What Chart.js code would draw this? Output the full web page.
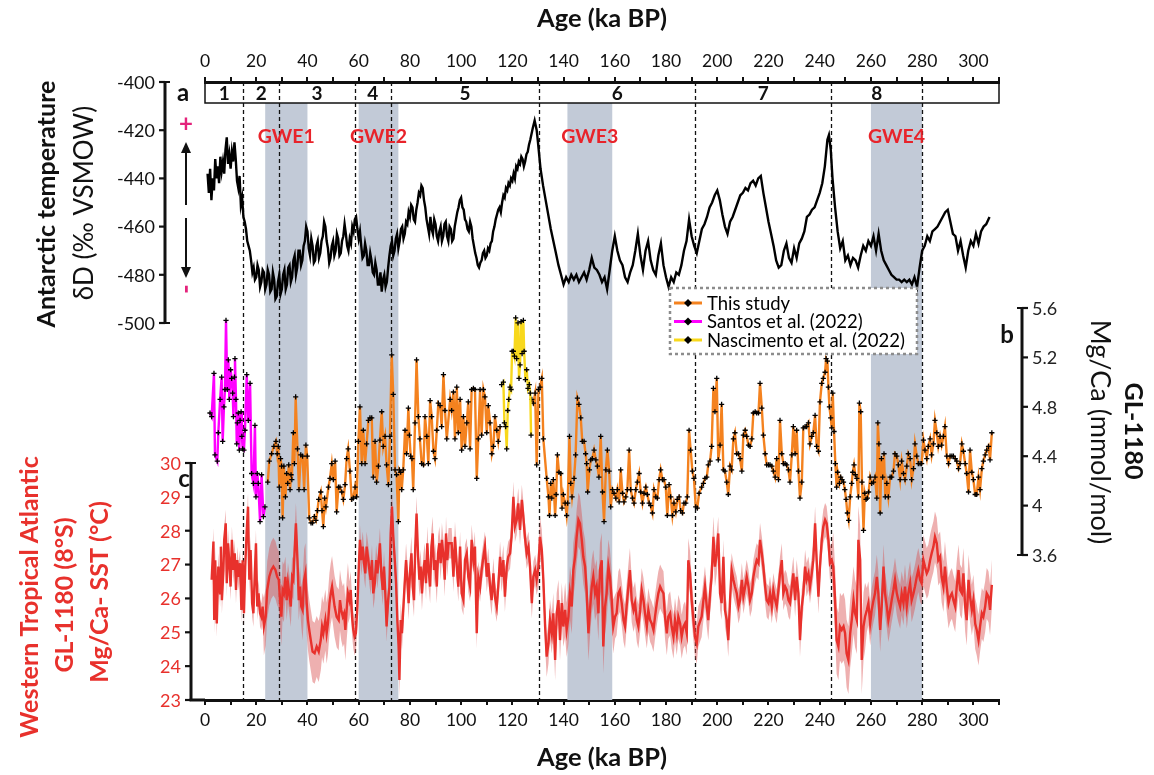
<!DOCTYPE html>
<html>
<head>
<meta charset="utf-8">
<script src="https://cdn.jsdelivr.net/npm/chart.js@4/dist/chart.umd.min.js"></script>
<style>
  body { margin: 0; background: #fff; }
</style>
</head>
<body>
<canvas id="chart" width="1154" height="775"></canvas>
<script>
// ---- data ----
const ageTicks = [0, 20, 40, 60, 80, 100, 120, 140, 160, 180, 200, 220, 240, 260, 280, 300];
const ddTicks = [-400, -420, -440, -460, -480, -500];
const mgcaTicks = [5.6, 5.2, 4.8, 4.4, 4.0, 3.6];
const mgcaTickLabels = ['5.6', '5.2', '4.8', '4.4', '4', '3.6'];
const sstTicks = [30, 29, 28, 27, 26, 25, 24, 23];

const misLabels = ['1', '2', '3', '4', '5', '6', '7', '8'];
const misBounds = [15, 29, 58.5, 72.5, 130.5, 191.5, 244.5, 280];
const gweLabels = ['GWE1', 'GWE2', 'GWE3', 'GWE4'];
const gweStart = [23.5, 60, 141.5, 260];
const gweEnd = [40, 75.5, 159, 280];

// Antarctic dD (a)
const ddAge = [1,1.5,2,2.5,3,3.5,4,4.5,5,5.5,
  6,6.5,7,7.5,8,8.5,9,9.5,10,10.5,
  11,11.5,12,12.5,13,13.5,14,14.5,15,15.5,
  16,16.5,17,17.5,18,18.5,19,19.5,20,20.5,
  21,21.5,22,22.5,23,23.5,24,24.5,25,25.5,
  26,26.5,27,27.5,28,28.5,29,29.5,30,30.5,
  31,31.5,32,32.5,33,33.5,34,34.5,35,35.5,
  36,36.5,37,37.5,38,38.5,39,39.5,40,40.5,
  41,41.5,42,42.5,43,43.5,44,44.5,45,45.5,
  46,46.5,47,47.5,48,48.5,49,49.5,50,50.5,
  51,51.5,52,52.5,53,53.5,54,54.5,55,55.5,
  56,56.5,57,57.5,58,58.5,59,59.5,60,60.5,
  61,61.5,62,62.5,63,63.5,64,64.5,65,65.5,
  66,66.5,67,67.5,68,68.5,69,69.5,70,70.5,
  71,71.5,72,72.5,73,73.5,74,74.5,75,75.5,
  76,76.5,77,77.5,78,78.5,79,79.5,80,80.5,
  81,81.5,82,82.5,83,83.5,84,84.5,85,85.5,
  86,86.5,87,87.5,88,88.5,89,89.5,90,90.5,
  91,91.5,92,92.5,93,93.5,94,94.5,95,95.5,
  96,96.5,97,97.5,98,98.5,99,99.5,100,100.5,
  101,101.5,102,102.5,103,103.5,104,104.5,105,105.5,
  106,106.5,107,107.5,108,108.5,109,109.5,110,110.5,
  111,111.5,112,112.5,113,113.5,114,114.5,115,115.5,
  116,116.5,117,117.5,118,118.5,119,119.5,120,120.5,
  121,121.5,122,122.5,123,123.5,124,124.5,125,125.5,
  126,126.5,127,128,128.7,129.5,130,131,132,133,
  134,135,136,137,138,139,140,141,142,143,
  144,145,146,147,148,149,150,151,152,153,
  154,155,156,157,158,159,160,161,162,163,
  164,165,166,167,168,169,170,171,172,173,
  174,175,176,177,178,179,180,181,182,183,
  184,185,186,187,188,189,190,191,192,193,
  194,195,196,197,198,199,200,201,202,203,
  204,205,206,207,208,209,210,211,212,213,
  214,215,216,217,218,219,220,221,222,223,
  224,225,226,227,228,229,230,231,232,233,
  234,235,236,237,238,239,240,241,242,243,
  243.6,244.3,245,246,247,248,249,250,251,252,
  253,254,255,256,257,258,259,260,261,262,
  263,264,265,266,267,268,269,270,271,272,
  273,274,275,276,277,278,279,280,281,282,
  283,284,285,286,287,288,289,290,291,292,
  293,294,295,296,297,298,299,300,301,302,
  303,304,305,306.3];
const ddVal = [-438,-446,-436,-449,-440,-445,-432,-440,-435,-442,
  -431,-437,-433,-438,-428,-423,-434,-430,-436,-429,
  -433,-425,-432,-441,-444,-439,-451,-448,-456,-458,
  -461,-466,-468,-470,-474,-479,-477,-482,-481,-476,
  -478,-485,-483,-478,-479,-486,-484,-478,-480,-487,
  -486,-479,-482,-490,-489,-483,-480,-488,-486,-480,
  -478,-486,-484,-477,-476,-483,-481,-474,-472,-480,
  -477,-470,-470,-476,-474,-468,-466,-460,-462,-469,
  -472,-465,-468,-475,-474,-468,-466,-473,-471,-466,
  -464,-458,-460,-466,-469,-475,-473,-468,-466,-472,
  -470,-463,-465,-472,-471,-466,-464,-459,-463,-468,
  -470,-465,-467,-460,-462,-457,-456,-461,-465,-462,
  -468,-473,-472,-467,-470,-476,-476,-471,-474,-479,
  -480,-475,-478,-484,-484,-479,-487,-482,-480,-485,
  -483,-477,-472,-468,-466,-472,-470,-465,-463,-469,
  -466,-461,-460,-465,-463,-458,-459,-454,-456,-451,
  -452,-457,-458,-453,-450,-446,-447,-443,-444,-449,
  -452,-457,-460,-463,-456,-461,-463,-457,-459,-464,
  -466,-462,-460,-466,-464,-459,-458,-464,-466,-460,
  -461,-466,-465,-460,-457,-454,-452,-449,-448,-452,
  -453,-457,-458,-461,-462,-458,-460,-465,-468,-471,
  -473,-476,-477,-475,-474,-471,-470,-473,-472,-469,
  -470,-467,-466,-462,-460,-457,-455,-453,-452,-454,
  -450,-447,-448,-444,-445,-442,-443,-440,-441,-438,
  -440,-435,-436,-433,-434,-431,-432,-435,-433,-430,
  -429,-426,-424,-419,-416,-420,-425,-436,-443,-449,
  -455,-461,-466,-471,-476,-480,-484,-481,-483,-480,
  -482,-480,-483,-481,-479,-482,-478,-473,-477,-478,
  -480,-483,-481,-486,-478,-470,-464,-470,-474,-476,
  -481,-483,-479,-476,-470,-463,-472,-478,-470,-466,
  -474,-478,-480,-472,-467,-476,-481,-485,-481,-483,
  -479,-480,-476,-470,-466,-457,-464,-468,-471,-466,
  -461,-459,-456,-452,-450,-447,-445,-449,-455,-460,
  -463,-458,-456,-453,-450,-447,-446,-444,-445,-442,
  -441,-443,-440,-439,-446,-452,-458,-463,-468,-474,
  -477,-476,-470,-467,-473,-475,-469,-473,-467,-465,
  -462,-456,-455,-453,-452,-449,-446,-442,-435,-424,
  -422,-428,-440,-452,-462,-469,-466,-474,-472,-476,
  -473,-474,-477,-472,-468,-470,-466,-468,-464,-470,
  -463,-470,-474,-476,-478,-480,-481,-482,-482,-483,
  -482,-483,-482,-484,-481,-485,-477,-470,-468,-464,
  -466,-462,-461,-460,-458,-456,-454,-453,-458,-463,
  -464,-470,-466,-472,-477,-470,-466,-468,-463,-467,
  -462,-460,-459,-456];

// GL-1180 Mg/Ca, this study (b)
const mgAge = [24.5,25.1,26.0,26.9,27.7,28.2,28.6,29.0,29.5,29.9,
  30.3,30.8,31.4,31.9,32.3,32.7,33.2,33.6,33.9,34.5,
  34.9,35.4,36.1,36.7,37.4,38.1,38.7,39.4,39.9,40.7,
  41.4,42.0,42.7,43.3,43.9,44.4,45.2,45.7,46.2,46.7,
  47.2,48.2,48.8,49.5,50.1,50.8,51.4,52.1,52.7,53.4,
  54.0,54.7,55.3,55.9,56.6,57.3,57.9,58.6,59.2,59.9,
  60.5,61.2,61.8,62.5,63.1,63.8,64.4,65.1,65.7,66.4,
  67.0,67.7,68.3,69.0,69.6,70.3,70.9,71.6,72.2,72.9,
  73.5,74.2,74.8,75.5,75.9,76.4,76.8,77.4,78.1,78.7,
  79.4,79.8,80.3,80.8,81.3,82.0,82.6,83.3,83.9,84.6,
  85.3,85.9,86.6,87.2,87.9,88.5,89.2,89.8,90.5,91.1,
  91.8,92.4,93.1,93.7,94.4,
  95.7,96.3,97.0,97.6,98.3,98.9,99.6,100.2,100.9,101.5,
  102.2,102.8,103.5,104.1,104.8,105.4,106.1,106.7,107.4,108.0,
  108.7,109.3,110.0,110.6,111.3,112.0,112.6,113.2,113.9,114.5,
  115.2,121,
  127.6,128.2,128.9,129.5,130.2,130.8,131.5,132.1,133.4,134.1,
  134.5,135.0,135.4,136.0,136.7,137.1,137.6,138.2,138.9,139.4,
  139.9,140.6,141.2,141.6,142.3,142.8,143.3,144.1,144.7,145.4,
  146.0,146.7,147.3,148.0,148.6,149.0,149.4,150.1,150.6,151.2,
  151.9,152.6,153.2,153.8,154.5,155.2,155.8,156.5,157.1,157.8,
  158.4,159.1,159.7,160.4,161.0,161.7,162.3,163.0,163.6,164.3,
  164.9,165.6,166.2,166.9,167.5,168.2,168.8,169.5,170.1,170.8,
  171.4,172.1,172.7,173.4,174.0,174.7,175.3,176.0,176.6,177.3,
  177.9,178.6,179.2,179.9,180.5,181.2,181.8,182.5,183.1,183.8,
  184.4,185.1,185.7,186.4,187.0,187.7,188.3,189.0,189.6,190.3,
  190.9,191.6,192.2,192.9,
  193.9,194.6,195.2,195.9,196.5,197.2,197.8,198.5,199.1,199.8,
  200.4,201.1,201.7,202.4,203.0,203.7,204.3,205.0,205.6,206.3,
  206.9,207.6,208.3,208.9,209.6,210.2,210.9,211.5,212.2,212.8,
  213.5,214.1,214.8,215.4,216.1,216.7,217.4,218.0,218.7,219.3,
  220.0,220.6,221.3,221.9,222.6,223.2,223.9,224.5,225.2,225.8,
  226.5,227.1,227.8,228.4,229.1,229.7,230.4,231.0,231.7,232.3,
  233.0,233.6,234.3,234.9,235.6,236.2,236.9,237.5,238.2,238.8,
  239.5,240.1,240.8,241.4,242.1,242.5,243.0,243.4,243.8,244.3,
  244.7,245.1,245.6,246.1,246.6,247.0,247.7,248.2,248.7,249.3,
  249.8,250.3,250.8,251.3,251.9,252.5,252.9,253.4,253.9,254.5,
  255.1,255.5,256.0,256.5,257.1,257.6,258.1,258.6,259.1,259.7,
  260.3,261.0,261.6,262.3,262.7,263.1,263.6,264.1,264.6,265.1,
  265.6,266.2,266.8,267.5,268.1,268.8,269.4,270.1,270.7,271.4,
  272.0,272.7,273.3,274.0,274.6,275.3,275.9,276.6,277.2,277.9,
  278.5,279.2,279.8,280.5,281.1,281.8,282.4,283.1,283.7,284.4,
  285.0,285.7,286.3,287.0,287.6,288.3,288.9,289.6,290.3,290.9,
  291.6,292.2,292.9,293.5,294.2,294.8,295.5,296.1,296.8,297.4,
  298.1,298.7,299.4,300.0,300.7,301.3,302.0,302.6,303.3,303.9,
  304.6,305.2,305.9,306.5,307.2];
const mgVal = [4.19,4.36,4.42,4.48,4.52,4.42,4.48,4.15,4.38,4.32,
  3.90,4.32,4.07,4.26,4.18,4.33,4.13,4.25,4.21,4.59,
  4.34,4.88,4.46,4.13,4.41,4.40,4.13,4.49,4.40,3.90,
  3.86,3.86,3.91,3.88,3.96,4.05,4.11,3.96,3.83,4.06,
  3.99,4.15,4.22,4.34,4.21,4.36,3.95,4.15,4.15,4.11,
  4.05,4.17,4.38,4.46,4.28,4.05,4.06,4.15,4.07,4.52,
  4.80,4.34,4.61,4.34,4.50,4.69,4.71,4.71,4.23,4.52,
  4.19,4.32,4.53,4.76,4.48,4.56,4.33,4.17,4.56,5.22,
  4.90,4.29,4.25,3.87,4.29,4.27,4.13,4.29,4.61,4.42,
  4.79,4.57,4.40,4.38,4.13,4.67,5.18,4.72,4.54,4.34,
  4.33,4.72,4.56,4.34,4.85,4.72,4.44,4.38,4.61,4.83,
  4.81,4.64,5.06,4.77,4.54,
  4.86,4.77,4.92,4.54,4.96,4.59,4.86,4.45,4.72,4.48,
  4.67,4.84,4.46,4.94,4.95,4.94,4.22,4.54,4.94,4.57,
  4.94,4.88,4.59,4.81,4.67,4.42,4.48,4.72,4.61,4.52,
  4.64,null,
  4.86,4.83,4.91,4.33,4.94,4.96,5.03,4.54,4.22,4.07,
  3.92,4.18,4.06,4.21,3.92,4.09,4.41,4.27,4.26,3.98,
  4.09,4.02,3.92,4.02,4.56,4.18,4.07,4.22,4.41,4.87,
  4.82,4.71,4.52,4.52,4.42,4.34,4.11,4.29,4.37,4.38,
  4.45,4.37,4.32,4.23,4.56,4.11,3.87,4.29,4.45,4.28,
  3.99,4.13,4.10,4.06,4.13,4.03,4.29,4.10,4.03,4.07,
  4.13,4.45,4.13,4.06,4.02,4.13,4.19,4.26,4.11,4.02,
  4.10,4.15,4.09,4.02,4.00,3.94,4.13,4.07,4.06,4.21,
  4.29,4.21,4.21,4.15,3.92,4.17,4.07,3.92,4.02,3.95,
  4.05,4.07,3.96,3.94,4.02,4.02,4.07,4.61,4.45,4.28,
  4.22,3.99,3.98,4.10,
  4.15,4.18,4.22,4.23,4.33,4.36,4.48,4.95,4.76,5.03,
  4.37,4.49,4.82,4.29,4.28,4.19,4.09,4.32,4.29,4.54,
  4.59,4.42,4.42,4.38,4.28,4.57,4.61,4.56,4.49,4.48,
  4.54,4.75,4.76,4.75,4.75,4.99,4.79,4.57,4.42,4.33,
  4.33,4.33,4.32,4.28,4.23,4.38,4.21,4.69,4.42,4.34,
  4.34,4.33,4.29,4.19,4.41,4.64,4.42,4.61,4.28,4.06,
  4.19,4.63,4.64,4.64,4.67,4.50,4.56,4.59,4.73,4.48,
  4.44,4.84,4.99,5.03,5.08,5.19,5.17,4.96,4.80,4.71,
  4.63,4.91,4.60,4.34,4.15,4.27,4.18,4.23,4.21,4.19,
  4.13,4.05,3.94,3.88,4.07,4.18,4.27,4.33,4.25,4.22,
  4.07,4.83,4.76,4.19,3.80,4.10,4.05,4.06,4.11,4.23,
  4.18,4.19,4.23,4.06,4.67,4.50,3.94,4.38,4.23,4.42,
  4.07,4.18,4.07,4.23,4.23,4.28,4.42,4.40,4.33,4.21,
  4.36,4.26,4.21,4.32,4.42,4.38,4.21,4.30,4.50,4.40,
  4.34,4.34,4.34,4.53,4.45,4.38,4.48,4.54,4.41,4.50,
  4.69,4.59,4.48,4.56,4.49,4.56,4.64,4.40,4.34,4.40,
  4.40,4.40,4.38,4.36,4.30,4.34,4.50,4.44,4.34,4.26,
  4.11,4.45,4.27,4.21,4.09,4.09,4.23,4.13,4.30,4.36,
  4.41,4.45,4.48,4.37,4.59];

// Santos et al. (2022)
const santosAge = [1.95,2.6,3.5,3.9,4.8,5.2,5.9,6.5,6.9,7.4,
  7.8,8.2,8.7,9.1,9.5,10.0,10.4,10.8,11.1,11.5,
  11.7,12.1,12.4,12.6,13.0,13.4,13.7,14.1,14.4,14.7,
  15.2,15.6,16.3,16.9,17.6,18.2,18.9,19.5,19.9,20.4,
  20.8,21.5,22.1,22.8,23.4];
const santosVal = [4.75,4.72,5.07,4.41,4.36,4.59,4.86,5.04,4.52,4.80,
  4.94,5.50,4.94,5.18,4.86,5.10,5.03,4.91,4.72,5.04,
  5.19,4.86,4.50,4.67,4.75,4.45,4.69,4.76,4.56,4.46,
  4.45,4.61,5.06,4.69,4.99,4.26,4.18,4.65,4.07,4.26,
  4.18,3.87,4.25,3.91,3.99];

// Nascimento et al. (2022)
const nascAge = [115.8,116.5,116.9,117.4,117.8,118.2,118.6,119.1,119.5,119.9,
  120.4,120.8,121.3,121.7,122.2,122.6,123.0,123.4,123.8,124.3,
  124.6,125.1,125.6,126.1,126.6,127.0,127.3];
const nascVal = [4.98,5.00,4.67,4.64,4.46,4.77,4.86,4.96,4.94,5.25,
  5.25,5.21,5.52,5.19,5.48,5.03,5.14,5.49,5.23,5.50,
  5.25,5.02,5.10,4.95,4.98,4.91,4.57];

// Mg/Ca-SST (c)
const sstAge = [2.6,3.3,3.6,4.0,4.6,5.2,5.9,6.2,6.6,7.2,
  7.5,8.1,8.5,9.0,9.5,10.0,10.5,11.1,11.6,12.1,
  12.6,13.1,13.7,14.2,14.7,15.2,15.7,16.3,16.8,17.3,
  17.8,18.4,18.9,19.4,19.9,20.4,20.9,21.5,22.0,22.5,
  23.0,23.7,24.3,25.1,25.9,26.7,27.5,28.2,28.8,29.3,
  29.8,30.3,30.8,31.4,31.9,32.4,32.9,33.5,34.0,34.5,
  35.0,35.5,36.1,36.6,37.1,37.6,38.1,38.7,39.2,39.7,
  40.2,40.7,41.3,42.0,42.8,43.6,44.4,45.2,45.7,46.2,
  47.0,47.5,48.0,48.6,49.1,49.6,50.1,50.6,51.4,52.2,
  52.7,53.2,53.8,54.3,54.8,55.3,55.8,56.4,56.9,57.4,
  57.9,58.4,58.9,59.5,60.0,60.5,61.0,61.6,62.1,62.6,
  63.1,63.6,64.2,64.7,65.2,65.7,66.3,66.8,67.3,67.8,
  68.3,68.9,69.4,69.9,70.4,70.9,71.5,72.0,72.5,73.0,
  73.5,74.1,74.6,75.1,75.6,75.9,76.4,76.9,77.4,77.9,
  78.5,79.0,79.5,80.0,80.6,81.1,81.6,82.1,82.6,83.2,
  83.7,84.2,84.7,85.3,85.8,86.3,86.8,87.3,87.9,88.4,
  88.9,89.4,89.9,90.5,91.0,91.5,92.0,92.5,93.1,93.6,
  94.1,94.6,95.1,
  96.3,97.0,97.6,98.3,98.9,99.6,100.2,100.9,101.5,102.2,
  102.8,103.5,104.1,104.8,105.4,106.1,106.7,107.4,108.0,108.7,
  109.3,110.0,110.6,111.3,111.9,112.6,113.2,113.9,114.5,115.2,
  115.8,116.5,117.1,117.8,118.4,119.1,119.7,120.4,121.0,121.7,
  122.3,123.0,123.7,124.3,124.9,125.6,126.3,126.9,127.6,128.2,
  128.9,129.5,130.2,130.8,131.5,132.1,132.8,133.4,134.1,134.7,
  135.4,136.0,136.7,137.3,138.0,138.6,139.3,139.9,140.6,141.2,
  141.9,142.5,143.2,143.8,144.5,145.1,145.8,146.4,147.1,147.7,
  148.4,149.0,149.7,150.3,151.0,151.6,152.3,152.9,153.6,154.2,
  154.9,155.5,156.2,156.8,157.5,158.1,158.8,159.4,160.1,160.7,
  161.4,162.0,162.7,163.4,164.0,164.6,165.3,165.9,166.6,167.3,
  167.9,168.6,169.2,169.9,170.5,171.2,171.8,172.5,173.1,173.8,
  174.4,175.1,175.7,176.4,177.0,177.7,178.3,179.0,179.6,180.3,
  180.9,181.6,182.2,182.9,183.5,184.2,184.8,185.5,186.1,186.8,
  187.4,188.1,188.7,189.4,190.0,190.7,191.3,192.0,192.6,
  193.9,194.6,195.2,195.9,196.5,197.2,197.8,198.5,199.1,199.8,
  200.4,201.1,201.7,202.4,203.0,203.7,204.3,205.0,205.6,206.3,
  206.9,207.6,208.3,208.9,209.6,210.2,210.9,211.5,212.2,212.8,
  213.5,214.1,214.8,215.4,216.1,216.7,217.4,218.0,218.7,219.3,
  220.0,220.6,221.3,221.9,222.6,223.2,223.9,224.5,225.2,225.8,
  226.5,227.1,227.8,228.4,229.1,229.7,230.4,231.0,231.7,232.3,
  233.0,233.6,234.3,234.9,235.6,236.2,236.9,237.5,238.2,238.8,
  239.5,240.1,240.8,241.4,242.1,242.7,243.4,244.0,244.7,245.3,
  246.0,246.6,247.3,247.9,248.6,249.3,249.9,250.5,251.2,251.9,
  252.5,253.2,253.8,254.5,255.1,255.8,256.4,257.1,257.7,258.4,
  259.0,259.7,260.3,261.0,261.6,262.3,262.9,263.6,264.2,264.9,
  265.5,266.2,266.8,267.5,268.1,268.8,269.4,270.1,270.7,271.4,
  272.0,272.7,273.3,274.0,274.6,275.3,275.9,276.6,277.2,277.9,
  278.5,279.2,279.8,280.5,281.1,281.8,282.4,283.1,283.7,284.4,
  285.0,285.7,286.3,287.0,287.6,288.3,288.9,289.6,290.3,290.9,
  291.6,292.2,292.9,293.5,294.2,294.8,295.5,296.1,296.8,297.4,
  298.1,298.7,299.4,300.0,300.7,301.3,302.0,302.6,303.3,303.9,
  304.6,305.2,305.9,306.5,307.2];
const sstVal = [26.55,27.68,25.36,27.13,25.26,26.94,26.15,27.53,25.95,26.84,
  27.73,28.22,26.45,27.63,27.04,26.35,27.73,26.84,27.33,26.25,
  27.13,26.64,27.04,25.66,27.13,25.56,26.94,28.02,28.71,26.55,
  27.43,25.86,25.56,26.64,27.63,25.76,26.15,25.56,25.46,25.76,
  25.17,25.46,26.25,26.64,26.84,26.94,26.84,26.64,26.55,25.95,
  25.46,26.25,26.15,26.64,25.95,26.45,26.15,25.76,26.64,26.55,
  27.43,28.22,27.13,25.95,26.35,25.76,25.66,26.55,26.74,25.86,
  25.36,25.07,24.77,24.43,24.38,24.58,24.43,24.77,25.17,24.97,
  25.36,24.97,25.26,25.86,26.15,26.35,26.05,25.76,25.46,25.36,
  25.95,25.66,25.46,25.56,25.07,25.66,26.15,25.95,26.25,25.46,
  25.07,24.87,24.97,25.76,26.84,27.73,27.13,27.53,27.04,26.74,
  27.53,27.23,26.84,26.55,27.13,26.15,26.45,27.13,26.74,27.13,
  27.63,26.64,26.25,26.94,26.15,25.17,25.95,26.35,27.92,28.71,
  27.82,27.13,26.45,25.36,24.58,23.59,25.36,24.97,25.66,26.35,
  27.13,26.55,25.86,26.74,27.33,26.35,25.95,27.53,28.51,27.23,
  26.55,26.94,26.15,26.84,27.13,26.45,27.63,26.84,26.35,27.53,
  27.92,26.84,27.13,26.35,27.33,27.63,27.04,27.73,27.23,26.55,
  27.92,27.13,27.63,
  27.63,26.64,27.82,26.94,26.35,27.53,26.15,25.95,27.13,27.33,
  26.64,26.35,27.73,27.13,27.53,24.97,26.64,26.35,26.84,27.23,
  27.53,26.64,27.04,26.35,25.95,26.74,26.05,25.76,26.35,27.23,
  26.64,27.13,26.05,26.94,27.23,27.33,27.82,29.00,28.12,28.32,
  28.81,28.02,28.91,28.41,27.82,27.33,27.53,26.94,25.86,26.64,
  26.84,26.55,26.94,27.82,27.43,26.55,25.17,24.28,24.67,25.36,
  24.97,25.56,24.18,25.56,25.95,24.77,25.86,25.17,25.66,25.07,
  25.46,26.15,25.76,26.84,27.23,27.82,28.32,28.22,27.73,27.23,
  26.94,26.25,24.97,25.66,26.35,26.64,26.15,26.35,25.56,26.84,
  27.13,24.58,25.76,26.15,26.94,26.64,25.95,25.17,25.46,25.56,
  26.15,26.25,25.86,25.36,25.17,25.76,26.35,26.84,25.95,25.66,
  25.86,25.36,25.17,25.66,26.25,25.95,25.56,25.17,25.66,25.36,
  25.26,25.07,25.46,25.86,26.15,26.35,26.25,26.15,25.46,24.97,
  25.46,25.56,25.17,24.87,25.36,24.97,25.46,25.26,24.87,25.17,
  25.26,24.97,27.13,26.74,25.95,25.36,24.87,24.67,25.17,
  25.46,25.95,26.35,25.76,25.36,26.15,26.64,27.82,26.94,27.33,
  27.92,26.15,25.86,27.23,25.66,25.36,24.77,25.95,26.84,26.55,
  26.35,26.15,25.76,25.95,26.55,26.05,26.35,26.64,26.35,25.95,
  26.15,26.64,26.94,27.13,27.04,27.73,27.33,26.94,26.35,25.95,
  25.86,26.15,25.76,26.25,25.95,25.76,26.25,26.74,27.13,26.15,
  26.35,26.25,25.95,25.86,26.35,26.74,25.95,26.64,26.15,24.77,
  25.76,26.15,26.94,26.55,26.74,26.35,26.74,27.13,28.22,27.13,
  26.05,26.94,27.73,28.12,28.32,28.22,27.73,27.04,27.13,26.94,
  25.95,24.77,24.58,25.17,25.07,25.17,24.97,24.38,24.18,24.97,
  25.36,25.95,25.56,25.36,27.73,27.13,24.18,25.17,25.46,25.66,
  25.86,25.26,25.66,25.95,26.15,26.64,26.15,25.07,25.76,26.94,
  26.15,25.76,25.36,25.66,25.95,26.25,26.55,26.15,25.95,25.76,
  26.15,25.86,26.35,25.76,26.15,26.45,25.95,26.15,26.35,26.64,
  26.84,26.55,26.45,27.13,26.94,26.74,26.84,27.13,27.33,27.53,
  27.82,27.63,27.13,27.23,26.64,26.35,26.94,26.35,25.86,26.05,
  26.15,25.95,25.76,26.35,26.84,26.25,26.15,26.74,25.76,25.36,
  26.55,26.05,25.66,25.95,25.26,25.07,24.77,25.17,25.56,25.46,
  25.76,26.15,26.05,25.66,26.40];
// half-width of the SST uncertainty band, by age interval
const sstErrFrom = [0, 23, 31, 38, 56, 60, 75, 95, 130, 140, 160, 190, 200, 245, 258, 280];
const sstErrVal = [0.4, 0.85, 0.6, 0.9, 0.55, 0.45, 0.5, 0.45, 0.6, 0.8, 0.65, 0.6, 0.5, 1.0, 0.65, 0.75];

// ---- build datasets ----
const FONT = 'Lato, "Open Sans", sans-serif';
const RED = '#e8312c';
const ORANGE = '#f4821f';

function pts(ages, vals) {
  return ages.map((a, i) => ({ x: a, y: vals[i] }));
}
function errAt(a) {
  let e = sstErrVal[0];
  for (let i = 0; i < sstErrFrom.length; i++) if (a >= sstErrFrom[i]) e = sstErrVal[i];
  return e;
}
const sstUpper = sstAge.map((a, i) => ({ x: a, y: sstVal[i] + errAt(a) }));
const sstLower = sstAge.map((a, i) => ({ x: a, y: sstVal[i] - errAt(a) }));

const markerOpts = {
  pointStyle: 'cross', pointRadius: 2.6, pointBorderColor: '#000',
  pointBackgroundColor: '#000', pointBorderWidth: 1.3, pointHoverRadius: 2.6
};

const datasets = [
  Object.assign({ label: 'Nascimento et al. (2022)', data: pts(nascAge, nascVal), yAxisID: 'yB',
    borderColor: '#f8d81c', borderWidth: 2.4, order: 1 }, markerOpts),
  Object.assign({ label: 'Santos et al. (2022)', data: pts(santosAge, santosVal), yAxisID: 'yB',
    borderColor: '#ff00ff', borderWidth: 2.4, order: 2 }, markerOpts),
  Object.assign({ label: 'This study', data: pts(mgAge, mgVal), yAxisID: 'yB',
    borderColor: ORANGE, borderWidth: 2.4, order: 3, spanGaps: false }, markerOpts),
  { label: 'dD', data: pts(ddAge, ddVal), yAxisID: 'yA', borderColor: '#000', borderWidth: 2.4,
    pointRadius: 0, order: 4 },
  { label: 'SST', data: pts(sstAge, sstVal), yAxisID: 'yC', borderColor: RED, borderWidth: 2.4,
    pointRadius: 0, order: 5 },
  { label: 'SST upper', data: sstUpper, yAxisID: 'yC', borderWidth: 0, pointRadius: 0,
    fill: '+1', backgroundColor: 'rgba(218,80,80,0.45)', order: 6 },
  { label: 'SST lower', data: sstLower, yAxisID: 'yC', borderWidth: 0, pointRadius: 0,
    fill: false, order: 7 }
];
const legendItems = ['This study', 'Santos et al. (2022)', 'Nascimento et al. (2022)'];

// ---- helper drawing ----
function rotText(ctx, text, x, y, angle, font, color) {
  ctx.save();
  ctx.translate(x, y);
  ctx.rotate(angle);
  ctx.font = font;
  ctx.fillStyle = color;
  ctx.textAlign = 'center';
  ctx.textBaseline = 'middle';
  ctx.fillText(text, 0, 0);
  ctx.restore();
}

function drawYAxis(ctx, scale, xPix, ticks, labels, side, labelColor) {
  const yTop = scale.getPixelForValue(ticks[0]);
  const yBot = scale.getPixelForValue(ticks[ticks.length - 1]);
  ctx.save();
  ctx.setLineDash([]);
  ctx.strokeStyle = '#111';
  ctx.lineWidth = 3;
  ctx.beginPath();
  ctx.moveTo(xPix, yTop - 1);
  ctx.lineTo(xPix, yBot + 1);
  ctx.stroke();
  ctx.lineWidth = 2.2;
  ctx.font = '18px ' + FONT;
  ctx.fillStyle = labelColor;
  ctx.textBaseline = 'middle';
  ctx.textAlign = side < 0 ? 'right' : 'left';
  ticks.forEach((t, i) => {
    const y = scale.getPixelForValue(t);
    ctx.beginPath();
    ctx.moveTo(xPix, y);
    ctx.lineTo(xPix + side * 6, y);
    ctx.stroke();
    ctx.fillText(labels[i], xPix + side * 10, y + 1);
  });
  // end caps point inward at the first and last tick
  ctx.beginPath();
  ctx.moveTo(xPix, yTop);
  ctx.lineTo(xPix - side * 5, yTop);
  ctx.moveTo(xPix, yBot);
  ctx.lineTo(xPix - side * 5, yBot);
  ctx.stroke();
  ctx.restore();
}

function arrow(ctx, x, yFrom, yTo) {
  const dir = yTo < yFrom ? -1 : 1;
  ctx.beginPath();
  ctx.moveTo(x, yFrom);
  ctx.lineTo(x, yTo - dir * 8);
  ctx.stroke();
  ctx.beginPath();
  ctx.moveTo(x, yTo);
  ctx.lineTo(x - 5, yTo - dir * 11);
  ctx.lineTo(x + 5, yTo - dir * 11);
  ctx.closePath();
  ctx.fill();
}

const decor = {
  id: 'decor',
  beforeDatasetsDraw(chart) {
    const { ctx, chartArea: ca, scales: { x } } = chart;
    const boxBottom = ca.top + 21;
    ctx.save();
    ctx.fillStyle = '#c2cad7';
    gweStart.forEach((s, i) => {
      const x0 = x.getPixelForValue(s);
      const x1 = x.getPixelForValue(gweEnd[i]);
      ctx.fillRect(x0, boxBottom, x1 - x0, ca.bottom - boxBottom);
    });
    ctx.strokeStyle = '#111';
    ctx.lineWidth = 1.3;
    ctx.setLineDash([4, 3]);
    misBounds.forEach(b => {
      const px = Math.round(x.getPixelForValue(b)) + 0.5;
      ctx.beginPath();
      ctx.moveTo(px, ca.top);
      ctx.lineTo(px, ca.bottom);
      ctx.stroke();
    });
    ctx.restore();
  },
  afterDraw(chart) {
    const { ctx, chartArea: ca, scales } = chart;
    const x = scales.x;
    ctx.save();

    // MIS box
    ctx.strokeStyle = '#111';
    ctx.lineWidth = 1.5;
    ctx.strokeRect(ca.left, ca.top, ca.right - ca.left, 21);
    ctx.font = 'bold 19px ' + FONT;
    ctx.fillStyle = '#111';
    ctx.textAlign = 'center';
    ctx.textBaseline = 'middle';
    misLabels.forEach((m, i) => {
      const a0 = i === 0 ? 0 : misBounds[i - 1];
      ctx.fillText(m, x.getPixelForValue((a0 + misBounds[i]) / 2), ca.top + 12);
    });

    // GWE labels
    ctx.font = 'bold 19.5px ' + FONT;
    ctx.fillStyle = '#e8232a';
    gweLabels.forEach((g, i) => {
      ctx.fillText(g, x.getPixelForValue((gweStart[i] + gweEnd[i]) / 2), ca.top + 55);
    });

    // y axes
    drawYAxis(ctx, scales.yA, ca.left - 40, ddTicks, ddTicks.map(String), -1, '#111');
    drawYAxis(ctx, scales.yB, ca.right + 23, mgcaTicks, mgcaTickLabels, 1, '#222');
    drawYAxis(ctx, scales.yC, ca.left - 14, sstTicks, sstTicks.map(String), -1, RED);
    // bottom axis joins the SST axis
    ctx.strokeStyle = '#111';
    ctx.lineWidth = 3;
    ctx.beginPath();
    ctx.moveTo(ca.left - 15.5, ca.bottom);
    ctx.lineTo(ca.left, ca.bottom);
    ctx.stroke();

    // panel letters
    ctx.font = 'bold 24px ' + FONT;
    ctx.fillStyle = '#111';
    ctx.textAlign = 'center';
    ctx.fillText('a', 183, 93);
    ctx.fillText('b', 1007, 335);
    ctx.fillText('c', 184, 479);

    // warm / cold arrows
    ctx.fillStyle = '#e4237c';
    ctx.font = 'bold 24px ' + FONT;
    ctx.fillText('+', 186, 124);
    rotText(ctx, '-', 186, 289, Math.PI / 2, 'bold 26px ' + FONT, '#e4237c');
    ctx.strokeStyle = '#111';
    ctx.fillStyle = '#111';
    ctx.lineWidth = 2;
    arrow(ctx, 186, 205, 142);
    arrow(ctx, 186, 218, 278);

    // axis titles
    const up = -Math.PI / 2, down = Math.PI / 2;
    rotText(ctx, 'Antarctic temperature', 47, 204, up, 'bold 25px ' + FONT, '#111');
    rotText(ctx, 'δD (‰ VSMOW)', 85, 203, up, '26px ' + FONT, '#111');
    rotText(ctx, 'Western Tropical Atlantic', 30, 597, up, 'bold 25px ' + FONT, RED);
    rotText(ctx, 'GL-1180 (8°S)', 65, 595, up, 'bold 25px ' + FONT, RED);
    rotText(ctx, 'Mg/Ca- SST (°C)', 100, 592, up, 'bold 25px ' + FONT, RED);
    rotText(ctx, 'Mg/Ca (mmol/mol)', 1100, 432, down, '27px ' + FONT, '#111');
    rotText(ctx, 'GL-1180', 1133, 431, down, 'bold 25px ' + FONT, '#111');

    // legend
    const lx = 670, ly = 288, lw = 247, lh = 66;
    ctx.fillStyle = '#fff';
    ctx.fillRect(lx, ly, lw, lh);
    ctx.strokeStyle = '#8c8c8c';
    ctx.lineWidth = 2.5;
    ctx.setLineDash([3, 3]);
    ctx.strokeRect(lx, ly, lw, lh);
    ctx.setLineDash([]);
    ctx.font = '18.5px ' + FONT;
    ctx.textAlign = 'left';
    legendItems.forEach((name, i) => {
      const ds = chart.data.datasets.find(d => d.label === name);
      const y = ly + 15 + i * 18.5;
      ctx.strokeStyle = ds.borderColor;
      ctx.lineWidth = 3;
      ctx.beginPath();
      ctx.moveTo(lx + 4, y);
      ctx.lineTo(lx + 32, y);
      ctx.stroke();
      ctx.fillStyle = '#000';
      ctx.beginPath();
      ctx.moveTo(lx + 18, y - 4);
      ctx.lineTo(lx + 22, y);
      ctx.lineTo(lx + 18, y + 4);
      ctx.lineTo(lx + 14, y);
      ctx.closePath();
      ctx.fill();
      ctx.fillStyle = '#000';
      ctx.fillText(name, lx + 37, y + 1);
    });
    ctx.restore();
  }
};

// ---- chart ----
const xAxisCommon = {
  type: 'linear', min: 0, max: 310,
  ticks: {
    stepSize: 10, autoSkip: false, maxRotation: 0, padding: 5, color: '#111',
    font: { family: FONT, size: 17.5 },
    callback: v => (ageTicks.includes(v) ? String(v) : '')
  },
  grid: { drawOnChartArea: false, drawTicks: true, tickLength: 5, color: '#111', lineWidth: 2 },
  border: { color: '#111', width: 3 },
  title: { display: true, text: 'Age (ka BP)', color: '#111', font: { family: FONT, size: 25.5, weight: 'bold' },
    padding: { top: 3, bottom: 2 } }
};

new Chart(document.getElementById('chart'), {
  type: 'line',
  data: { datasets: datasets },
  options: {
    responsive: false,
    animation: false,
    devicePixelRatio: 1,
    layout: { padding: { left: 205, right: 155, top: 0, bottom: 0 } },
    elements: { line: { tension: 0 } },
    plugins: { legend: { display: false }, tooltip: { enabled: false } },
    scales: {
      x: Object.assign({}, xAxisCommon, { position: 'bottom', afterFit: s => { s.height = 75; } }),
      xTop: Object.assign({}, xAxisCommon, { position: 'top', afterFit: s => { s.height = 82; } }),
      // chart area runs from y=82 to y=700; the ranges below place each panel in its band
      yA: { type: 'linear', display: false, min: -656.43, max: -400 },
      yB: { type: 'linear', display: false, min: 2.426, max: 7.430 },
      yC: { type: 'linear', display: false, min: 23, max: 41.253 }
    }
  },
  plugins: [decor]
});
</script>
</body>
</html>
